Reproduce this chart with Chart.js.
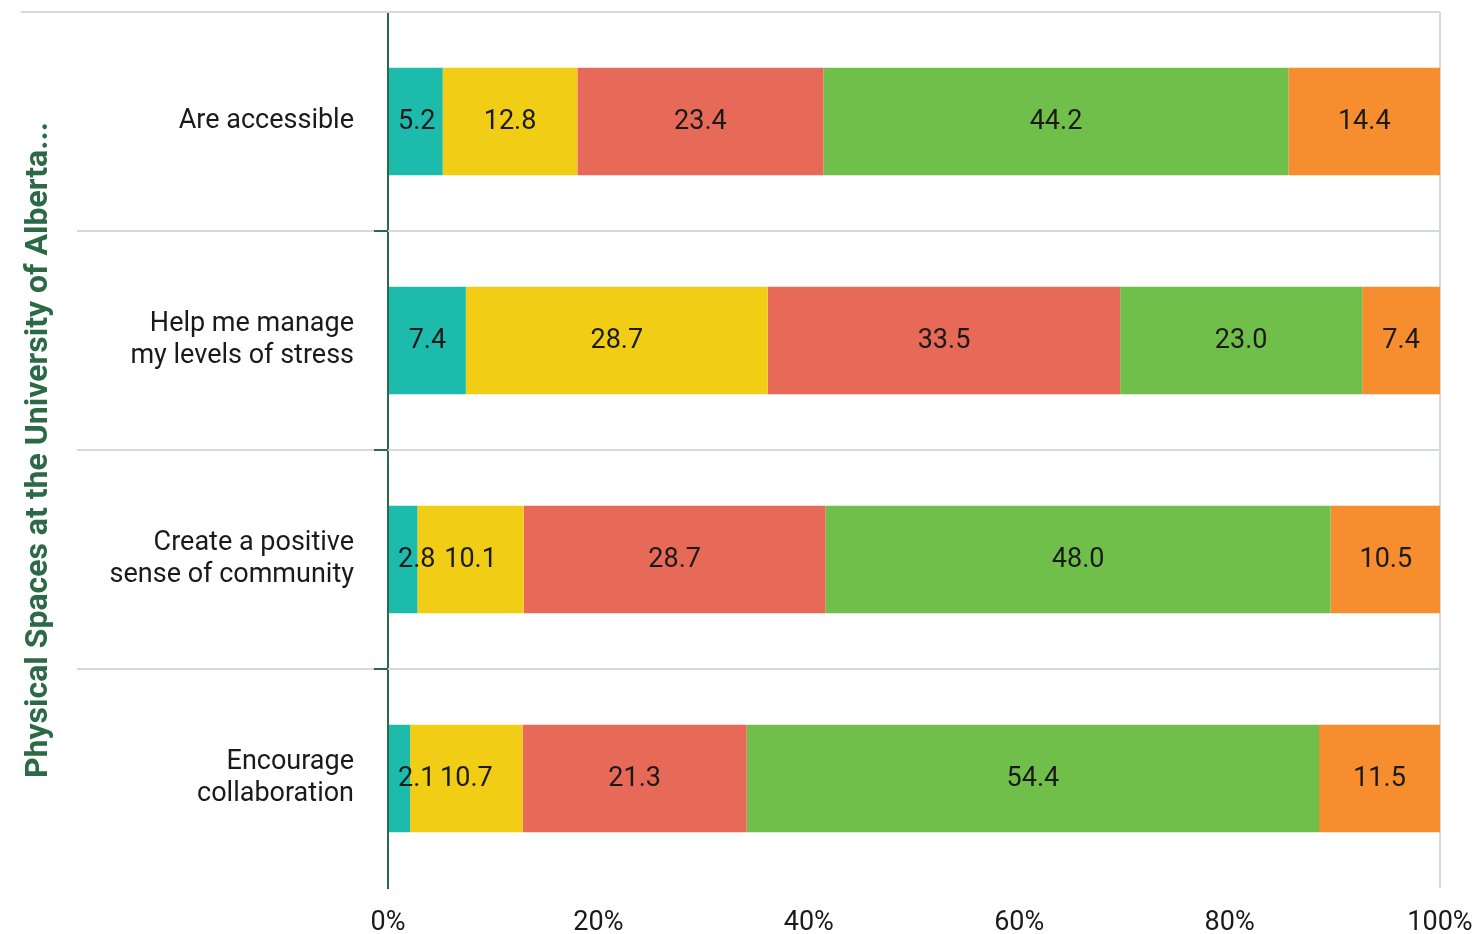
<!DOCTYPE html>
<html>
<head>
<meta charset="utf-8">
<script src="https://cdn.jsdelivr.net/npm/chart.js@4/dist/chart.umd.min.js"></script>
<style>
  html, body { margin: 0; padding: 0; background: #fff; }
  #wrap { width: 1475px; height: 934px; position: relative; }
</style>
</head>
<body>
<div id="wrap"><canvas id="chart"></canvas></div>
<script>
// statements (y axis categories)
const categories = [
	['Are accessible'],
	['Help me manage', 'my levels of stress'],
	['Create a positive', 'sense of community'],
	['Encourage', 'collaboration'],
];

// response shares, % per statement
const seriesNames = ['Strongly disagree', 'Disagree', 'Neutral', 'Agree', 'Strongly agree'];
const stronglyDisagree = [5.2, 7.4, 2.8, 2.1];
const disagree = [12.8, 28.7, 10.1, 10.7];
const neutral = [23.4, 33.5, 28.7, 21.3];
const agree = [44.2, 23.0, 48.0, 54.4];
const stronglyAgree = [14.4, 7.4, 10.5, 11.5];

const xTicks = [0, 20, 40, 60, 80, 100];
const axisTitle = 'Physical Spaces at the University of Alberta...';

const colors = ['#1dbbab', '#f2cd15', '#e76a58', '#71bf4b', '#f68d2e'];
const green = '#2b6a45';
const gridGray = '#d6d9d9';
const FONT = 'Roboto, "Noto Sans", sans-serif';

// gray separators between the statements + short green ticks on the axis
const separators = {
	id: 'separators',
	beforeDatasetsDraw(chart) {
		const { ctx, chartArea } = chart;
		const y = chart.scales.y;
		ctx.save();
		ctx.lineWidth = 2;
		ctx.strokeStyle = gridGray;
		ctx.beginPath();
		ctx.moveTo(21, chartArea.top);
		ctx.lineTo(chartArea.right, chartArea.top);
		ctx.stroke();
		for (let i = 0; i < categories.length - 1; i++) {
			const yy = Math.round((y.getPixelForValue(i) + y.getPixelForValue(i + 1)) / 2);
			ctx.strokeStyle = gridGray;
			ctx.beginPath();
			ctx.moveTo(77, yy);
			ctx.lineTo(chartArea.right, yy);
			ctx.stroke();
			ctx.strokeStyle = green;
			ctx.beginPath();
			ctx.moveTo(chartArea.left - 14, yy);
			ctx.lineTo(chartArea.left, yy);
			ctx.stroke();
		}
		ctx.restore();
	},
};

// value labels in the middle of each segment
const valueLabels = {
	id: 'valueLabels',
	afterDatasetsDraw(chart) {
		const { ctx } = chart;
		ctx.save();
		ctx.font = '27px ' + FONT;
		ctx.fillStyle = '#1a1a1a';
		ctx.textAlign = 'center';
		ctx.textBaseline = 'middle';
		chart.data.datasets.forEach((ds, di) => {
			chart.getDatasetMeta(di).data.forEach((bar, i) => {
				const txt = ds.data[i].toFixed(1);
				const w = ctx.measureText(txt).width;
				const x = Math.max((bar.base + bar.x) / 2, bar.base + w / 2 + 9);
				ctx.fillText(txt, x, bar.y + 1);
			});
		});
		ctx.restore();
	},
};

const seriesData = [stronglyDisagree, disagree, neutral, agree, stronglyAgree];

new Chart(document.getElementById('chart'), {
	type: 'bar',
	data: {
		labels: categories,
		datasets: seriesData.map((d, i) => ({
			label: seriesNames[i],
			data: d,
			backgroundColor: colors[i],
			borderWidth: 0,
			categoryPercentage: 1,
			barPercentage: 0.49,
		})),
	},
	options: {
		indexAxis: 'y',
		responsive: true,
		maintainAspectRatio: false,
		animation: false,
		layout: { padding: { top: 12, left: 20, right: 0, bottom: 0 } },
		plugins: {
			legend: { display: false },
			tooltip: { enabled: false },
		},
		scales: {
			x: {
				stacked: true,
				min: 0,
				max: 100,
				afterBuildTicks: (s) => { s.ticks = xTicks.map((v) => ({ value: v })); },
				afterFit: (s) => {
					s.height = 46;
					s.paddingLeft = 0;
					s.paddingRight = 35;
				},
				ticks: {
					callback: (v) => v + '%',
					font: { family: FONT, size: 27 },
					color: '#1a1a1a',
					padding: 19,
					maxRotation: 0,
				},
				grid: {
					color: (c) => (c.tick && c.tick.value === 100 ? gridGray : 'rgba(0,0,0,0)'),
					lineWidth: 2,
					drawTicks: false,
				},
				border: { display: false },
			},
			y: {
				stacked: true,
				afterFit: (s) => {
					s.width = 368;
					s.paddingTop = 0;
					s.paddingBottom = 0;
				},
				ticks: {
					font: { family: FONT, size: 27 },
					color: '#1a1a1a',
					padding: 20,
				},
				grid: { display: false, tickLength: 14 },
				border: { display: true, color: green, width: 2 },
				title: {
					display: true,
					text: axisTitle,
					color: green,
					font: { family: FONT, size: 32, weight: 'bold' },
					padding: 0,
				},
			},
		},
	},
	plugins: [separators, valueLabels],
});
</script>
</body>
</html>
